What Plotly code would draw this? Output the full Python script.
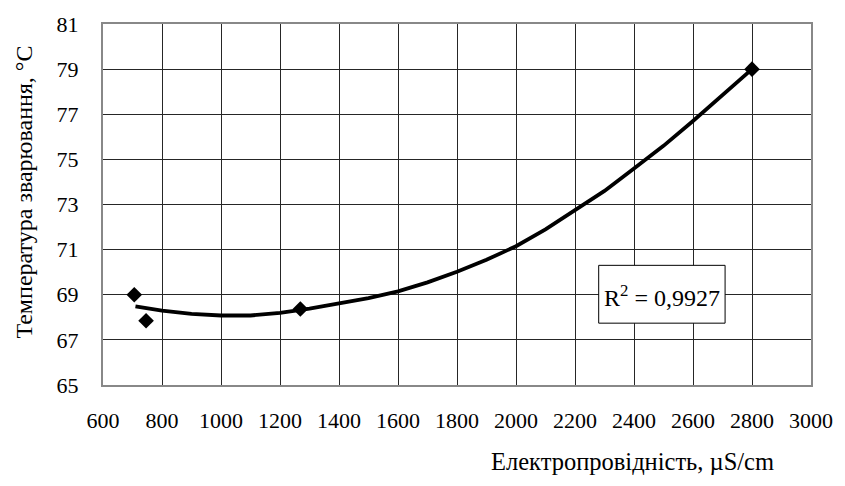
import plotly.graph_objects as go

# Measured data points
x_points = [706, 746, 1269, 2800]
y_points = [69.0, 67.85, 68.37, 79.0]

# Trendline
trend_x = [710, 800, 900, 1000, 1100, 1200, 1300, 1400, 1500, 1600, 1700,
           1800, 1900, 2000, 2100, 2200, 2300, 2400, 2500, 2600, 2700, 2800]
trend_y = [68.48, 68.3, 68.15, 68.08, 68.08, 68.2, 68.38, 68.6, 68.85, 69.15, 69.55,
           70.02, 70.55, 71.15, 71.9, 72.75, 73.6, 74.6, 75.6, 76.7, 77.85, 79.0]

x_ticks = [600, 800, 1000, 1200, 1400, 1600, 1800, 2000, 2200, 2400, 2600, 2800, 3000]
y_ticks = [65, 67, 69, 71, 73, 75, 77, 79, 81]

r2_text = "R<sup>2</sup> = 0,9927"
x_title = "Електропровідність, µS/cm"
y_title = "Температура зварювання, °С"

FONT = "Liberation Serif"

fig = go.Figure()
fig.add_trace(go.Scatter(x=trend_x, y=trend_y, mode="lines",
                         line=dict(color="black", width=3.8), showlegend=False))
fig.add_trace(go.Scatter(x=x_points, y=y_points, mode="markers",
                         marker=dict(symbol="diamond", color="black", size=12),
                         showlegend=False))

fig.update_layout(
    width=845, height=486,
    margin=dict(l=103, r=25, t=23, b=101),
    paper_bgcolor="white", plot_bgcolor="white",
    xaxis=dict(range=[600, 3000], tickvals=x_ticks, ticktext=[str(v) for v in x_ticks],
               showgrid=True, gridcolor="#262626", gridwidth=1, zeroline=False,
               ticks="", ticklabelstandoff=15, showline=True, linecolor="#888888",
               linewidth=2, mirror=True,
               tickfont=dict(size=22, family=FONT, color="black")),
    yaxis=dict(range=[65, 81], tickvals=y_ticks, ticktext=[str(v) for v in y_ticks],
               showgrid=True, gridcolor="#262626", gridwidth=1, zeroline=False,
               ticks="", ticklabelstandoff=18, showline=True, linecolor="#888888",
               linewidth=2, mirror=True,
               tickfont=dict(size=22, family=FONT, color="black")),
)

# R² box
fig.add_shape(type="rect", xref="paper", yref="paper",
              x0=(605 - 103) / 717, x1=(733 - 103) / 717,
              y0=(385 - 323) / 362, y1=(385 - 265) / 362,
              fillcolor="white", line=dict(color="black", width=1), layer="above")
fig.add_annotation(x=(669 - 103) / 717, y=(385 - 296) / 362, xref="paper", yref="paper",
                   text=r2_text, showarrow=False, xanchor="center", yanchor="middle",
                   font=dict(size=24, family=FONT, color="black"))

fig.add_annotation(x=(639 - 103) / 717, y=-(462 - 385) / 362, xref="paper", yref="paper",
                   text=x_title, showarrow=False, xanchor="center", yanchor="middle",
                   font=dict(size=24.5, family=FONT, color="black"))

fig.add_annotation(x=-(103 - 23) / 717, y=(385 - 192) / 362, xref="paper", yref="paper",
                   text=y_title, showarrow=False, xanchor="center", yanchor="middle",
                   textangle=-90, font=dict(size=24, family=FONT, color="black"))

fig.write_html("out.html")
